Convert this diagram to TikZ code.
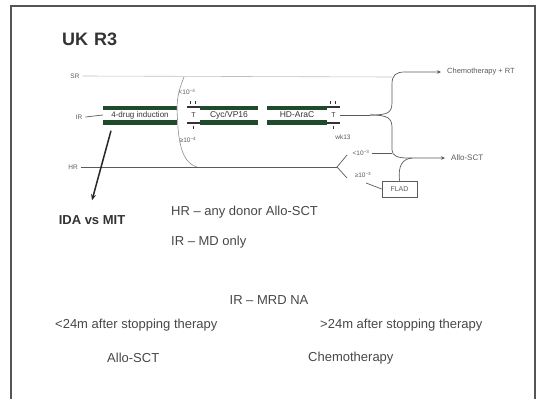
\documentclass[tikz,border=0pt]{standalone}
\usepackage{fontspec}
\setmainfont{Liberation Sans}
\usetikzlibrary{arrows.meta,calc}
\definecolor{dkgreen}{HTML}{1F4A2C}
\definecolor{txt}{HTML}{474747}
\definecolor{lin}{HTML}{5A5A5A}
\definecolor{frm}{HTML}{555555}
\newcommand{\fs}[1]{\fontsize{#1}{#1}\selectfont}
\tikzset{
  body/.style={text=txt, font=\fs{13}, inner sep=0},
  small/.style={text=lin, font=\fs{6.5}, inner sep=0},
  lbl/.style={text=lin, font=\fs{7.5}, inner sep=0},
  conn/.style={draw=lin, line width=0.7pt},
  faint/.style={draw=black!25, line width=0.6pt},
  tip/.style={-{Stealth[length=4pt,width=3.5pt]}, shorten >=6pt},
  drugbox/.style={minimum height=19, inner sep=0, text=black!80, font=\fs{8.5},
    path picture={
      \fill[dkgreen] (path picture bounding box.north west) rectangle ([yshift=-4.5pt]path picture bounding box.north east);
      \fill[dkgreen] (path picture bounding box.south west) rectangle ([yshift=4.5pt]path picture bounding box.south east);}},
  tbox/.style={minimum height=19, minimum width=13, inner sep=0, text=black!80, font=\fs{7},
    path picture={
      \draw[black!80, line width=1.2pt] (path picture bounding box.north west) ++(0,-1.5pt) -- ++(13pt,0);
      \draw[black!80, line width=1.2pt] (path picture bounding box.south west) ++(0,1.5pt) -- ++(13pt,0);}},
}
\begin{document}
\begin{tikzpicture}[x=1pt,y=-1pt]
\useasboundingbox (0,0) rectangle (540,399);
% frame
\draw[frm, line width=1.6pt] (11,399) -- (11,6) -- (535,6) -- (535,399);

% title
\node[anchor=west, inner sep=0, text=black!80, font=\bfseries\fs{18}] (title) at (62,39) {UK\hspace{6pt}R3};

% risk labels
\node[small] (sr) at (75,76) {SR};
\node[small] (ir) at (79,117) {IR};
\node[small] (hr) at (73,167) {HR};

% treatment blocks
\node[drugbox, minimum width=74, font=\fs{8}] (ind) at (140,115) {4-drug induction};
\node[tbox] (t1) at (193.5,115) {T};
\node[drugbox, minimum width=58] (cyc) at (229,115) {Cyc/VP16};
\node[drugbox, minimum width=60] (hd) at (297,115) {HD-AraC};
\node[tbox] (t2) at (333.5,115) {T};
% little markers on T blocks
\foreach \t in {t1,t2}{
  \draw[black!80, line width=0.5pt] ($(\t.north)+(-3,-1)$) -- ++(0,-3) ($(\t.north)+(2,-1)$) -- ++(0,-3);
  \draw[black!80, line width=0.5pt] ($(\t.south)+(0,1)$) -- ++(0,3);
}

% SR line
\coordinate (srend) at (392,77);
\draw[faint] (sr.east) ++(3,0) -- (srend);

% IR line
\draw[conn] (ir.east) ++(3,0) -- (ind.west);

% MRD divider after induction
\coordinate (divtop) at (184,77);
\coordinate (divbot) at (197,167);
\draw[draw=black!45, line width=0.6pt] (divtop) .. controls (178,92) and (177,100) .. (177,110) -- (178,128) .. controls (180,152) and (186,164) .. (divbot);
\node[small] (lt4) at (187,92) {<10\textsuperscript{−4}};
\node[small] (ge4) at (188,140) {≥10\textsuperscript{−4}};

% outcomes
\node[lbl, anchor=west] (chemort) at (447,72) {Chemotherapy + RT};
\node[lbl, anchor=west, font=\fs{8}] (allo) at (451,158) {Allo-SCT};
\node[small] (wk) at (343,137) {wk13};

% fork after week 13
\coordinate (fork) at (370,115);
\draw[conn] (t2.east) -- (fork);
\draw[conn, tip] (fork) .. controls (388,115) and (392,113) .. (392,102) -- (392,84)
  .. controls (392,75) and (396,72) .. (405,72) -- (chemort.west);
\draw[conn, tip] (fork) .. controls (388,115) and (392,118) .. (392,128) -- (392,150)
  .. controls (392,156) and (398,158) .. (408,158) -- (allo.west);

% HR line and split
\coordinate (hrfork) at (337,167);
\draw[conn, line width=0.9pt] (hr.east) ++(3,0) -- (hrfork);
\coordinate (hrup) at (347,155);
\coordinate (hrdn) at (347,178);
\draw[conn] (hrup) -- (hrfork) -- (hrdn);
\node[small] (lt3) at (361,153) {<10\textsuperscript{−3}};
\node[small] (ge3) at (363,175) {≥10\textsuperscript{−3}};
\draw[conn] (lt3.east) ++(2,0) -- (392,153);

% FLAD
\node[draw=lin, line width=0.7pt, minimum width=35, minimum height=16, inner sep=0, text=lin, font=\fs{7}] (flad) at (399.5,189) {FLAD};
\draw[conn] (366,183) -- (flad.west);
\draw[conn] (flad.north) .. controls (398,166) and (402,159) .. (412,158);

% arrow to IDA vs MIT
\node[text=black!80, font=\bfseries\fs{13}, inner sep=0] (ida) at (92,220) {IDA vs MIT};
\draw[draw=black!85, line width=1.5pt, -{Stealth[length=6pt,width=5pt]}] ($(ind.south)+(-29,6)$) -- ($(ida.north)+(0,-15)$);

% text notes
\node[body, anchor=west] (hrnote) at (171,212) {HR – any donor Allo-SCT};
\node[body, anchor=west] (irnote) at (171,242) {IR – MD only};
\node[body] (mrdna) at (269,300) {IR – MRD NA};
\node[body, anchor=west] (lt24) at (55,325) {<24m after stopping therapy};
\node[body, anchor=west] (gt24) at (320,325) {>24m after stopping therapy};
\node[body, anchor=west] (allo2) at (107,358) {Allo-SCT};
\node[body, anchor=west] (chemo2) at (308,358) {Chemotherapy};
\end{tikzpicture}
\end{document}
